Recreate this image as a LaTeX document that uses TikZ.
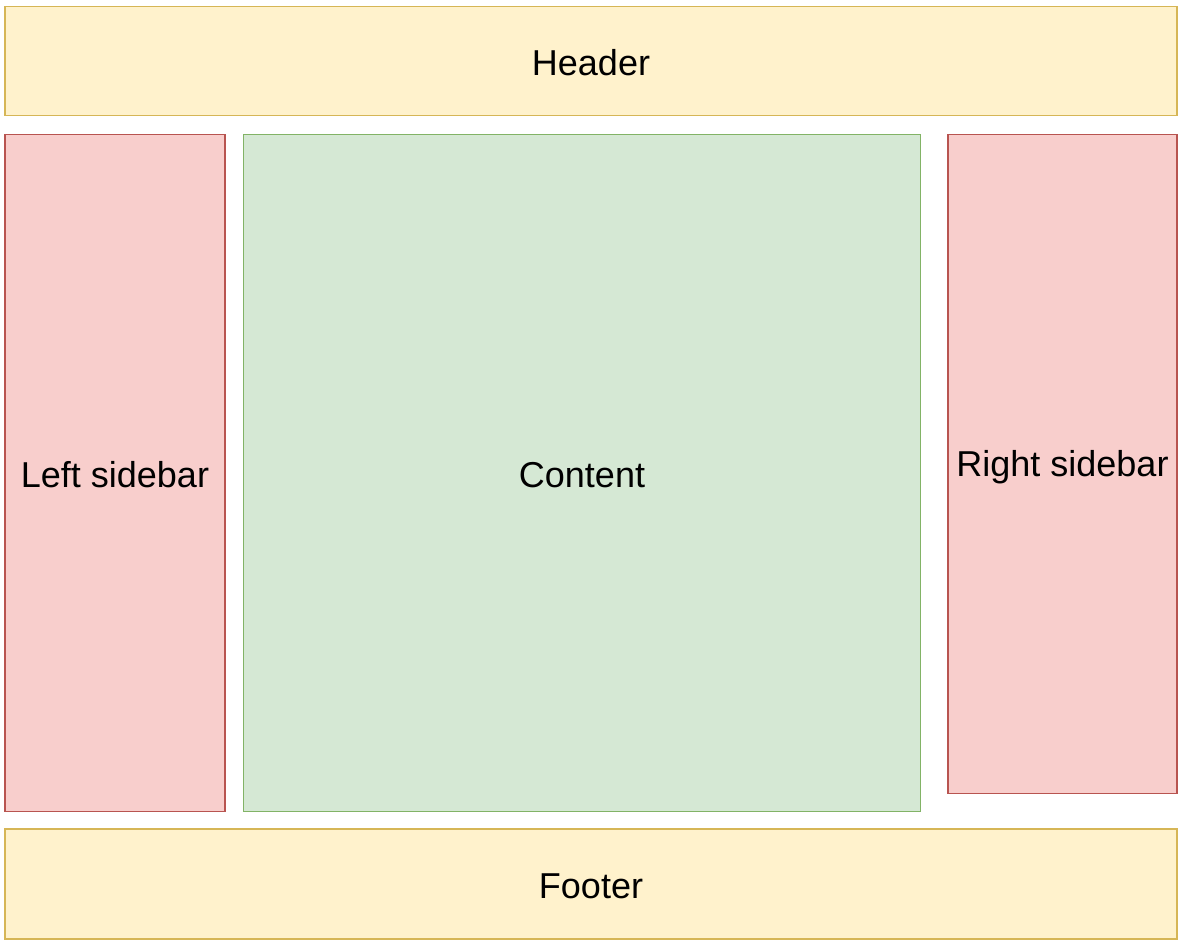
\documentclass[tikz,border=0pt]{standalone}
\usepackage{fontspec}
\setmainfont{Liberation Sans}
\definecolor{yelfill}{HTML}{FFF2CC}
\definecolor{yeldraw}{HTML}{D6B656}
\definecolor{redfill}{HTML}{F8CECC}
\definecolor{reddraw}{HTML}{B85450}
\definecolor{grnfill}{HTML}{D5E8D4}
\definecolor{grndraw}{HTML}{82B366}
\newcommand{\lowr}[1]{\raisebox{-2pt}[\height][\depth]{#1}}
\begin{document}
\begin{tikzpicture}[x=1pt,y=-1pt,
  panel/.style={rectangle, line width=1.3pt, inner sep=0pt, outer sep=0pt,
    font=\fontsize{36}{43}\selectfont, text=black},
  yel/.style={panel, fill=yelfill, draw=yeldraw},
  red/.style={panel, fill=redfill, draw=reddraw},
  grn/.style={panel, fill=grnfill, draw=grndraw}]
\useasboundingbox (0,0) rectangle (1185,947);
\node[yel, minimum width=1172pt, minimum height=109.5pt] (header) at (591,61) {\lowr{Header}};
\node[red, minimum width=220pt, minimum height=677.5pt] (left) at (115,473) {\lowr{Left sidebar}};
\node[grn, minimum width=677pt, minimum height=677.5pt] (content) at (582,473) {\lowr{Content}};
\node[red, minimum width=229pt, minimum height=659.5pt] (right) at (1062.5,464) {\raisebox{-3.5pt}[\height][\depth]{Right sidebar}};
\node[yel, minimum width=1172pt, minimum height=110pt] (footer) at (591,884) {\lowr{Footer}};
\end{tikzpicture}
\end{document}
